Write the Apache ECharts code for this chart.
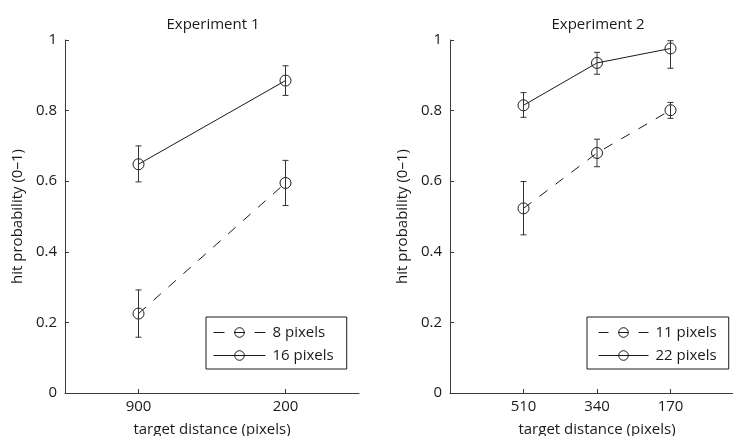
<!DOCTYPE html>
<html>
<head>
<meta charset="utf-8">
<script src="https://cdn.jsdelivr.net/npm/echarts@6/dist/echarts.min.js"></script>
<style>
  html, body { margin: 0; padding: 0; background: #fff; }
  #chart { width: 733px; height: 436px; }
</style>
</head>
<body>
<div id="chart"></div>
<script>
// Experiment 1: target distances and hit probabilities (mean, lower, upper)
const exp1Distances = ['900', '200'];
const exp1SmallName = '8 pixels';
const exp1Small = [0.225, 0.595];
const exp1SmallLow = [0.158, 0.531];
const exp1SmallHigh = [0.292, 0.659];
const exp1LargeName = '16 pixels';
const exp1Large = [0.648, 0.885];
const exp1LargeLow = [0.598, 0.843];
const exp1LargeHigh = [0.700, 0.927];

// Experiment 2
const exp2Distances = ['510', '340', '170'];
const exp2SmallName = '11 pixels';
const exp2Small = [0.523, 0.680, 0.801];
const exp2SmallLow = [0.448, 0.641, 0.778];
const exp2SmallHigh = [0.599, 0.719, 0.823];
const exp2LargeName = '22 pixels';
const exp2Large = [0.815, 0.935, 0.976];
const exp2LargeLow = [0.781, 0.903, 0.920];
const exp2LargeHigh = [0.851, 0.965, 0.998];

const FONT = 'Open Sans';
const INK = '#1a1a1a';
const AXIS = '#3a3a3a';
const FS = 15;
const DASH = [10, 10];

const points = vals => vals.map((v, i) => [i + 1, v]);
const bars = (lo, hi) => lo.map((l, i) => [i + 1, l, hi[i]]);

function errorBar(params, api) {
  const x = api.value(0);
  const p1 = api.coord([x, api.value(1)]);
  const p2 = api.coord([x, api.value(2)]);
  const w = 3;
  const style = { stroke: '#333', lineWidth: 1 };
  return {
    type: 'group',
    children: [
      { type: 'line', shape: { x1: p1[0], y1: p1[1], x2: p2[0], y2: p2[1] }, style },
      { type: 'line', shape: { x1: p1[0] - w, y1: p1[1], x2: p1[0] + w, y2: p1[1] }, style },
      { type: 'line', shape: { x1: p2[0] - w, y1: p2[1], x2: p2[0] + w, y2: p2[1] }, style }
    ]
  };
}

function lineSeries(name, vals, idx, dashed) {
  return {
    name, type: 'line', xAxisIndex: idx, yAxisIndex: idx,
    data: points(vals),
    symbol: 'circle', symbolSize: 11,
    itemStyle: { color: 'rgba(0,0,0,0)', borderColor: INK, borderWidth: 1 },
    lineStyle: { color: INK, width: 1, type: dashed ? DASH : 'solid' },
    emphasis: { disabled: true },
    clip: false, z: 3
  };
}

function barSeries(lo, hi, idx) {
  return {
    type: 'custom', xAxisIndex: idx, yAxisIndex: idx,
    data: bars(lo, hi), renderItem: errorBar, z: 4, silent: true
  };
}

function xAxis(idx, labels, min, max) {
  const ticks = labels.map((_, i) => i + 1);
  return {
    gridIndex: idx, type: 'value', min, max,
    name: 'target distance (pixels)', nameLocation: 'middle', nameGap: 29,
    nameTextStyle: { fontFamily: FONT, fontSize: FS, color: INK },
    axisLine: { show: true, lineStyle: { color: AXIS, width: 1 } },
    axisTick: { show: true, inside: true, length: 4, customValues: ticks, lineStyle: { color: AXIS } },
    axisLabel: { customValues: ticks, formatter: v => labels[Math.round(v) - 1], margin: 6,
                 fontFamily: FONT, fontSize: FS, color: INK },
    splitLine: { show: false }
  };
}

function yAxis(idx) {
  return {
    gridIndex: idx, type: 'value', min: 0, max: 1, interval: 0.2,
    name: 'hit probability (0\u20131)', nameLocation: 'middle', nameGap: 40,
    nameTextStyle: { fontFamily: FONT, fontSize: FS, color: INK },
    axisLine: { show: true, lineStyle: { color: AXIS, width: 1 } },
    axisTick: { show: true, inside: true, length: 4, lineStyle: { color: AXIS } },
    axisLabel: { margin: 8, fontFamily: FONT, fontSize: FS, color: INK,
                 formatter: v => (v === 0 || v === 1) ? String(v) : v.toFixed(1) },
    splitLine: { show: false }
  };
}

function legend(left, names, iconWidth, dash, padding) {
  return {
    left, top: 317, orient: 'vertical',
    data: [
      { name: names[0], lineStyle: { type: dash, width: 1 } },
      { name: names[1], lineStyle: { type: 'solid', width: 1 } }
    ],
    backgroundColor: '#fff', borderColor: INK, borderWidth: 1,
    padding, itemGap: 8, itemWidth: iconWidth, itemHeight: 12,
    lineStyle: { width: 1 },
    itemStyle: { color: 'rgba(0,0,0,0)', borderColor: INK, borderWidth: 1 },
    textStyle: { fontFamily: FONT, fontSize: FS, color: INK, padding: [0, 0, 0, 2] },
    selectedMode: false
  };
}

const chart = echarts.init(document.getElementById('chart'), null, { renderer: 'canvas' });
chart.setOption({
  animation: false,
  backgroundColor: '#fff',
  textStyle: { fontFamily: FONT },
  title: [
    { text: 'Experiment 1', left: 208, top: 12, textAlign: 'center',
      textStyle: { fontFamily: FONT, fontSize: FS, fontWeight: 'normal', color: INK } },
    { text: 'Experiment 2', left: 593, top: 12, textAlign: 'center',
      textStyle: { fontFamily: FONT, fontSize: FS, fontWeight: 'normal', color: INK } }
  ],
  grid: [
    { left: 65, top: 40, width: 294, height: 353, outerBoundsMode: 'none', containLabel: false },
    { left: 450, top: 40, width: 294, height: 353, outerBoundsMode: 'none', containLabel: false }
  ],
  xAxis: [xAxis(0, exp1Distances, 0.5, 2.5), xAxis(1, exp2Distances, 0, 4)],
  yAxis: [yAxis(0), yAxis(1)],
  legend: [
    legend(206, [exp1SmallName, exp1LargeName], 52, [11, 9.5], [8, 13, 6, 7]),
    legend(587, [exp2SmallName, exp2LargeName], 50, [10, 10], [8, 12, 6, 11])
  ],
  series: [
    lineSeries(exp1SmallName, exp1Small, 0, true),
    lineSeries(exp1LargeName, exp1Large, 0, false),
    barSeries(exp1SmallLow, exp1SmallHigh, 0),
    barSeries(exp1LargeLow, exp1LargeHigh, 0),
    lineSeries(exp2SmallName, exp2Small, 1, true),
    lineSeries(exp2LargeName, exp2Large, 1, false),
    barSeries(exp2SmallLow, exp2SmallHigh, 1),
    barSeries(exp2LargeLow, exp2LargeHigh, 1)
  ]
});
</script>
</body>
</html>
